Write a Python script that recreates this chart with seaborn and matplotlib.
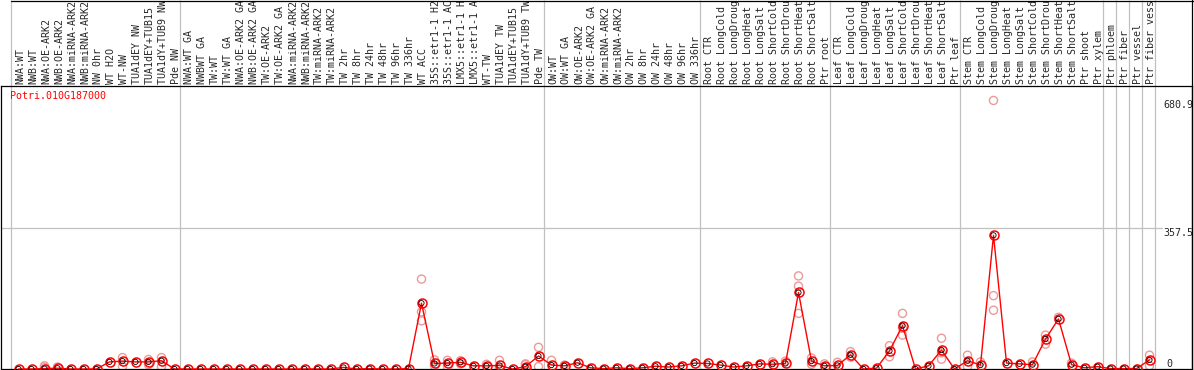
import numpy as np
import pandas as pd
import seaborn as sns
import matplotlib.pyplot as plt
from matplotlib.lines import Line2D
from matplotlib.transforms import ScaledTranslation

# sample labels (shown truncated to 14 characters, like the original)
labels = [
    'NWA:WT', 'NWB:WT', 'NWA:OE-ARK2', 'NWB:OE-ARK2', 'NWA:miRNA-ARK2', 'NWB:miRNA-ARK2',
    'NW 0hr', 'WT H2O', 'WT-NW', 'TUA1dEY NW', 'TUA1dEY+TUB15', 'TUA1dY+TUB9 NW', 'Pde NW',
    'NWA:WT GA', 'NWBWT GA', 'TW:WT', 'TW:WT GA', 'NWA:OE-ARK2 GA', 'NWB:OE-ARK2 GA',
    'TW:OE-ARK2', 'TW:OE-ARK2 GA', 'NWA:miRNA-ARK2', 'NWB:miRNA-ARK2', 'TW:miRNA-ARK2',
    'TW:miRNA-ARK2', 'TW 2hr', 'TW 8hr', 'TW 24hr', 'TW 48hr', 'TW 96hr', 'TW 336hr',
    'WT ACC', '35S::etr1-1 H2', '35S::etr1-1 AC', 'LMX5::etr1-1 H', 'LMX5::etr1-1 A',
    'WT-TW', 'TUA1dEY TW', 'TUA1dEY+TUB15', 'TUA1dY+TUB9 TW', 'Pde TW',
    'OW:WT', 'OW:WT GA', 'OW:OE-ARK2', 'OW:OE-ARK2 GA', 'OW:miRNA-ARK2', 'OW:miRNA-ARK2',
    'OW 2hr', 'OW 8hr', 'OW 24hr', 'OW 48hr', 'OW 96hr', 'OW 336hr',
    'Root CTR', 'Root LongCold', 'Root LongDroug', 'Root LongHeat', 'Root LongSalt',
    'Root ShortCold', 'Root ShortDrou', 'Root ShortHeat', 'Root ShortSalt', 'Ptr root',
    'Leaf CTR', 'Leaf LongCold', 'Leaf LongDroug', 'Leaf LongHeat', 'Leaf LongSalt',
    'Leaf ShortCold', 'Leaf ShortDrou', 'Leaf ShortHeat', 'Leaf ShortSalt', 'Ptr leaf',
    'Stem CTR', 'Stem LongCold', 'Stem LongDroug', 'Stem LongHeat', 'Stem LongSalt',
    'Stem ShortCold', 'Stem ShortDrou', 'Stem ShortHeat', 'Stem ShortSalt', 'Ptr shoot',
    'Ptr xylem', 'Ptr phloem', 'Ptr fiber', 'Ptr vessel', 'Ptr fiber vess',
]

# mean expression per sample
means = [
    0, 0, 1, 2, 0, 0, 0, 18, 20, 18, 18, 21, 0,
    0, 0, 0, 0, 0, 0, 0, 0, 0, 0, 0, 0, 4, 0, 1, 0, 0, 1,
    167, 14, 15, 17, 8, 8, 9, 0, 6, 33,
    10, 8, 16, 3, 1, 3, 1, 3, 7, 5, 8, 15,
    14, 10, 5, 8, 13, 12, 14, 194, 20, 8,
    9, 36, 0, 2, 46, 110, 0, 8, 48, 0,
    21, 10, 339, 15, 13, 11, 76, 127, 11, 3, 6,
    1, 1, 1, 23,
]

# individual replicates that stand apart from the mean
rep_idx = [2, 2, 3, 8, 8, 10, 10, 11, 11,
           31, 31, 31, 32, 32, 33, 33, 34, 34, 36, 37, 37, 39, 39, 39, 40, 40, 41, 42,
           58, 59, 60, 60, 60, 61, 61, 62, 63, 64, 64, 67, 67, 68, 68, 68, 71, 71, 71,
           73, 73, 74, 75, 75, 75, 78, 79, 79, 80, 81, 87, 87]
rep_val = [4, 8, 5, 29, 6, 24, 11, 29, 6,
           228, 145, 122, 23, 8, 22, 6, 21, 13, 12, 22, 3, 13, 11, 3, 55, 6, 22, 10,
           18, 20, 236, 210, 141, 28, 12, 13, 17, 44, 30, 59, 31, 141, 86, 103, 78, 25, 41,
           35, 6, 18, 680.9, 186, 149, 18, 86, 63, 131, 15, 35, 8]

# boundaries between sample groups (index of first sample in each group)
group_starts = [0, 13, 41, 53, 63, 73, 84, 85, 86, 87, 88]

df = pd.DataFrame({'idx': np.arange(len(labels)), 'mean': means})
reps = pd.DataFrame({'idx': rep_idx, 'value': rep_val})

sns.set_style('white')
plt.rcParams['font.family'] = ['DejaVu Sans Mono', 'DejaVu Sans']

W, H = 1194, 370
fig = plt.figure(figsize=(W / 100, H / 100), dpi=100)
ax = fig.add_axes([1 / W, 1 / H, 1191 / W, 283 / H])

grey = '#c0c0c0'
fs = 7.2

# group separators, running up through the label area
sep_x = [k - 0.577 for k in group_starts]
ax.vlines(sep_x, 0, 369 / 283, transform=ax.get_xaxis_transform(),
          colors=grey, lw=0.9, clip_on=False, zorder=0)
ax.axhline(357.5, xmax=0.975, color=grey, lw=0.9, zorder=0)

sns.scatterplot(data=reps, x='idx', y='value', ax=ax, marker='o', s=34,
                facecolor='none', edgecolor='#eb9a9a', linewidth=1.0,
                clip_on=False, zorder=2, legend=False)
sns.lineplot(data=df, x='idx', y='mean', ax=ax, color='red', lw=1.0,
             marker='o', markersize=6.5, markerfacecolor='none',
             markeredgecolor='red', markeredgewidth=1.1, clip_on=False, zorder=3)
sns.scatterplot(data=df, x='idx', y='mean', ax=ax, marker='o', s=14,
                facecolor='none', edgecolor='black', linewidth=0.6,
                clip_on=False, zorder=4, legend=False)

ax.set_xlim((1 - 18.5) / 13, (1192 - 18.5) / 13)
ax.set_ylim(0, 283 / 0.3944)

# sample names along the top
ax.xaxis.tick_top()
ax.set_xticks(df['idx'])
ax.set_xticklabels(labels, rotation=90, fontsize=fs)
ax.tick_params(axis='x', length=0, pad=1.4)
shift = ScaledTranslation(1.5 / 100, 0, fig.dpi_scale_trans)
for lbl in ax.get_xticklabels():
    lbl.set_transform(lbl.get_transform() + shift)
ax.set_yticks([])
ax.set_xlabel('')
ax.set_ylabel('')

# value marks on the right, inside the plot
tx = (1163 - 18.5) / 13
ax.text(tx, 680.9, '680.9', fontsize=fs, va='top', ha='left')
ax.text(tx, 357.5, '357.5', fontsize=fs, va='top', ha='left')
ax.text((1166 - 18.5) / 13, 0, '0', fontsize=fs, va='bottom', ha='left')

ax.text(9 / 1191, (369 - 91) / 283, 'Potri.010G187000', color='red',
        fontsize=fs, va='top', ha='left', transform=ax.transAxes)

for s in ax.spines.values():
    s.set_color('black')
    s.set_linewidth(0.9)

# outer frame above the label area
fig.add_artist(Line2D([11 / W, 1], [1 - 0.5 / H, 1 - 0.5 / H], color='black', lw=0.9))
fig.add_artist(Line2D([1192 / W, 1192 / W], [1 / H, 1], color='black', lw=0.9))

fig.savefig('out.png', dpi=100)
